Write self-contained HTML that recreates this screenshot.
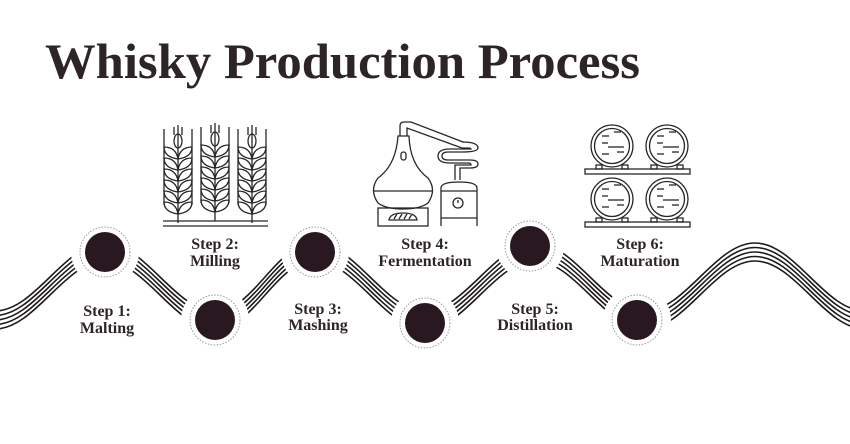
<!DOCTYPE html>
<html><head><meta charset="utf-8"><style>
html,body{margin:0;padding:0;background:#fff;}
svg{display:block;}
</style></head><body>
<svg width="850" height="444" viewBox="0 0 850 444" xmlns="http://www.w3.org/2000/svg">
<defs>
<path id="wave" d="M -5 320 C 35 320 65 252 105 252 S 175 320 215 320 S 275 252 315 252 S 385 320 425 320 S 495 252 535 252 S 605 320 645 320 S 715 252 755 252 S 825 320 865 320" fill="none" stroke="#1e1a1c" stroke-width="1.6"/>
<g id="stalk" fill="none" stroke="#2a2628" stroke-width="1.3">
<line x1="0" y1="-2" x2="0" y2="96"/>
<line x1="-4" y1="8" x2="-4" y2="0"/><line x1="4" y1="8" x2="4" y2="0"/>
<line x1="-14" y1="30" x2="-14" y2="2"/><line x1="14" y1="30" x2="14" y2="2"/>
<line x1="-14" y1="30" x2="-14" y2="78"/><line x1="14" y1="30" x2="14" y2="78"/>
<ellipse cx="0" cy="14" rx="4" ry="7"/>
<path d="M0,32 Q-14,30 -14,20 Q-2,20 0,32 M0,32 Q14,30 14,20 Q2,20 0,32"/>
<path d="M0,43 Q-14,41 -14,31 Q-2,31 0,43 M0,43 Q14,41 14,31 Q2,31 0,43"/>
<path d="M0,54 Q-14,52 -14,42 Q-2,42 0,54 M0,54 Q14,52 14,42 Q2,42 0,54"/>
<path d="M0,65 Q-14,63 -14,53 Q-2,53 0,65 M0,65 Q14,63 14,53 Q2,53 0,65"/>
<path d="M0,76 Q-14,74 -14,64 Q-2,64 0,76 M0,76 Q14,74 14,64 Q2,64 0,76"/>
<path d="M0,87 Q-14,85 -14,75 Q-2,75 0,87 M0,87 Q14,85 14,75 Q2,75 0,87"/>
</g>
<g id="barrel" fill="none" stroke="#2a2628" stroke-width="1.3">
<circle r="21"/><circle r="17.5"/>
<line x1="-10" y1="-10" x2="-3" y2="-10"/><line x1="2" y1="-14" x2="9" y2="-14"/>
<line x1="-10" y1="-3" x2="-4" y2="-3"/><line x1="-4" y1="1" x2="12" y2="1"/>
<line x1="-10" y1="8" x2="-3" y2="8"/><line x1="5" y1="6" x2="12" y2="6"/>
<rect x="-16" y="19" width="6" height="4"/><rect x="10" y="19" width="6" height="4"/>
</g>
</defs>

<text x="45" y="78" font-family="'Liberation Serif',serif" font-weight="bold" font-size="50" fill="#2d2428" textLength="595" lengthAdjust="spacingAndGlyphs">Whisky Production Process</text>

<use href="#wave" y="-9"/><use href="#wave" y="-4.5"/><use href="#wave"/><use href="#wave" y="4.5"/><use href="#wave" y="9"/>

<g fill="#ffffff" stroke="none">
<circle cx="105" cy="252" r="34"/><circle cx="215" cy="320" r="34"/><circle cx="315" cy="252" r="34"/>
<circle cx="425" cy="323" r="34"/><circle cx="530" cy="246" r="34"/><circle cx="637" cy="320" r="34"/>
</g>
<g fill="none" stroke="#999" stroke-width="1" stroke-dasharray="1.5 1.5">
<circle cx="105" cy="252" r="25"/><circle cx="215" cy="320" r="25"/><circle cx="315" cy="252" r="25"/>
<circle cx="425" cy="323" r="25"/><circle cx="530" cy="246" r="25"/><circle cx="637" cy="320" r="25"/>
</g>
<g fill="#2a1820">
<circle cx="105" cy="252" r="20"/><circle cx="215" cy="320" r="20"/><circle cx="315" cy="252" r="20"/>
<circle cx="425" cy="323" r="20"/><circle cx="530" cy="246" r="20"/><circle cx="637" cy="320" r="20"/>
</g>

<g font-family="'Liberation Serif',serif" font-weight="bold" font-size="16" fill="#2d2428" text-anchor="middle">
<text x="107" y="316">Step 1:</text><text x="107" y="333">Malting</text>
<text x="215" y="249">Step 2:</text><text x="215" y="266">Milling</text>
<text x="318" y="314">Step 3:</text><text x="318" y="330">Mashing</text>
<text x="425" y="249">Step 4:</text><text x="425" y="266">Fermentation</text>
<text x="535" y="314">Step 5:</text><text x="535" y="330">Distillation</text>
<text x="640" y="249">Step 6:</text><text x="640" y="266">Maturation</text>
</g>

<use href="#stalk" x="178" y="127"/>
<use href="#stalk" x="215" y="125"/>
<use href="#stalk" x="252" y="127"/>
<g stroke="#2a2628" stroke-width="1.3">
<line x1="163" y1="221" x2="268" y2="221"/><line x1="163" y1="226" x2="268" y2="226"/>
</g>

<g fill="none" stroke="#2a2628" stroke-width="1.3">
<path d="M400,136 L400,126 Q400,122 404,122 L411,122 L463,142 M407,136 L407,128 L462,148"/>
<path d="M462,142 Q478,142 478,148 Q478,152 462,152 L448,152 Q442,152 442,156 Q442,160 448,160 L470,160 Q478,160 478,164 Q478,168 470,168 L460,168 L460,180 M462,148 L468,148 Q471,148 471,149 L450,149 Q438,149 438,156 Q438,163 450,163 L468,163 Q471,163 471,165 L455,165 L455,180"/>
<path d="M398,136 L409,136 Q410,165 428,178 Q437,190 428,203 Q420,209 403,209 Q386,209 378,203 Q369,190 378,178 Q396,165 398,136 Z"/>
<line x1="374" y1="191" x2="433" y2="191"/>
<rect x="401" y="152" width="5" height="8" rx="2.5"/>
<rect x="378" y="208" width="50" height="18"/>
<path d="M389,220 Q390,213 403,213 Q416,213 417,220 Z M394,219 L397,214 M399,219 L402,214 M404,219 L407,214 M409,219 L412,214"/>
<path d="M441,226 L441,188 Q441,182 459,182 Q477,182 477,188 L477,226"/>
<line x1="441" y1="191" x2="477" y2="191"/>
<line x1="441" y1="218" x2="477" y2="218"/>
<circle cx="458" cy="203" r="5"/><line x1="458" y1="200" x2="458" y2="203"/>
</g>

<use href="#barrel" x="612" y="146"/><use href="#barrel" x="667" y="146"/>
<use href="#barrel" x="612" y="199"/><use href="#barrel" x="667" y="199"/>
<g fill="none" stroke="#2a2628" stroke-width="1.3">
<rect x="585" y="169" width="105" height="5"/>
<rect x="585" y="222" width="105" height="5"/>
</g>
</svg>
</body></html>
